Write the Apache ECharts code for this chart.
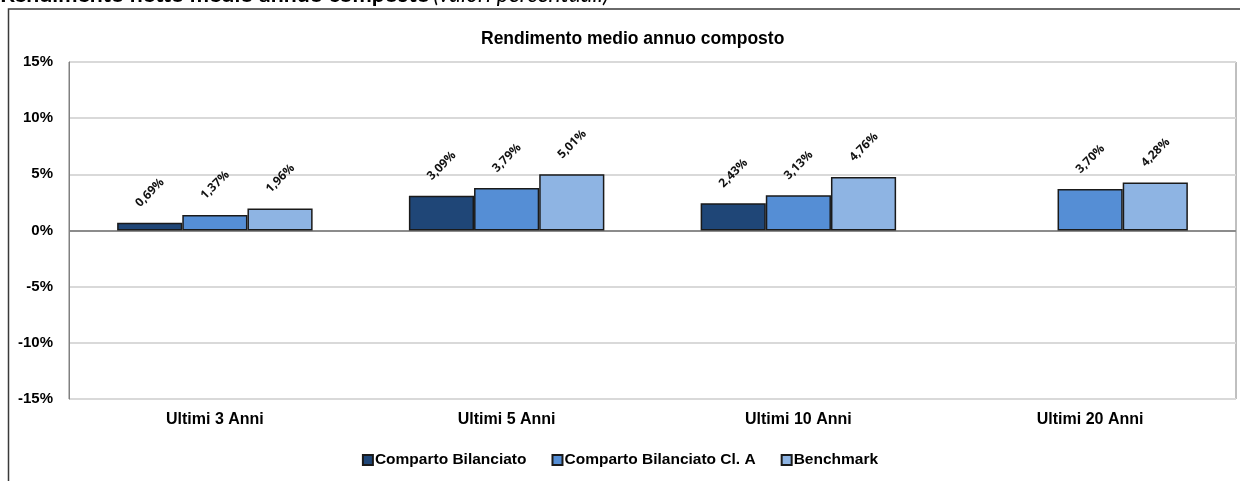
<!DOCTYPE html>
<html>
<head>
<meta charset="utf-8">
<script src="https://cdn.jsdelivr.net/npm/echarts@6/dist/echarts.min.js"></script>
<style>
  html, body { margin: 0; padding: 0; background: #fff; }
  #chart { width: 1240px; height: 481px; }
</style>
</head>
<body>
<div id="chart"></div>
<script>
const categories = ["Ultimi 3 Anni", "Ultimi 5 Anni", "Ultimi 10 Anni", "Ultimi 20 Anni"];
const bilanciato = [0.69, 3.09, 2.43, null];
const bilanciatoClA = [1.37, 3.79, 3.13, 3.70];
const benchmark = [1.96, 5.01, 4.76, 4.28];
const seriesNames = ["Comparto Bilanciato", "Comparto Bilanciato Cl. A", "Benchmark"];

const chart = echarts.init(document.getElementById("chart"));

// offset is in the label's rotated frame
const valueLabel = {
  show: true,
  position: "top",
  distance: 0,
  offset: [4, -21],
  rotate: 45,
  align: "left",
  verticalAlign: "middle",
  fontFamily: "Open Sans",
  fontWeight: "bold",
  fontSize: 12,
  color: "#111",
  formatter: (p) => p.value.toFixed(2).replace(".", ",") + "%",
};

function makeBar(name, data, color) {
  return {
    name: name,
    type: "bar",
    data: data,
    barGap: "0%",
    barCategoryGap: "33%",
    itemStyle: { color: color, borderColor: "#1a1a1a", borderWidth: 1.5 },
    label: valueLabel,
  };
}

const option = {
  animation: false,
  graphic: [
    {
      type: "rect",
      z: -10,
      shape: { x: 8.5, y: 9, width: 1260, height: 520 },
      style: { fill: "none", stroke: "#3a3a3a", lineWidth: 1.5 },
    },
    {
      type: "text",
      left: 0,
      top: -17,
      style: {
        text: "{b|Rendimento netto medio annuo composto} {i|(valori percentuali)}",
        rich: {
          b: { fontFamily: "Lato", fontWeight: "bold", fontSize: 23, fill: "#000" },
          i: { fontFamily: "Lato", fontStyle: "italic", fontSize: 23, fill: "#000" },
        },
      },
    },
  ],
  title: {
    text: "Rendimento medio annuo composto",
    left: 476,
    top: 25,
    textStyle: { fontFamily: "Liberation Sans", fontWeight: "bold", fontSize: 17.5, color: "#000" },
  },
  legend: {
    bottom: 8,
    left: "center",
    itemWidth: 10,
    itemHeight: 10,
    itemGap: 25,
    icon: "rect",
    textStyle: { fontFamily: "Liberation Sans", fontWeight: "bold", fontSize: 15.5, color: "#000", padding: [0, 0, 0, -3] },
    data: seriesNames,
  },
  grid: {
    left: 69,
    right: 4,
    top: 62,
    bottom: 82,
    show: true,
    borderColor: "#808080",
    borderWidth: 1,
  },
  xAxis: {
    type: "category",
    data: categories,
    axisLine: { show: false, onZero: false },
    axisTick: { show: false },
    axisLabel: { margin: 13, fontFamily: "Liberation Sans", fontWeight: "bold", fontSize: 16, color: "#000" },
  },
  yAxis: {
    type: "value",
    min: -15,
    max: 15,
    interval: 5,
    axisLine: { show: true, lineStyle: { color: "#808080" } },
    axisTick: { show: false },
    axisLabel: {
      margin: 16,
      fontFamily: "Liberation Sans",
      fontWeight: "bold",
      fontSize: 15,
      color: "#000",
      formatter: "{value}%",
    },
    splitLine: {
      lineStyle: {
        width: 2,
        color: ["#d9d9d9", "#d9d9d9", "#d9d9d9", "#8c8c8c", "#d9d9d9", "#d9d9d9", "#d9d9d9"],
      },
    },
  },
  series: [
    makeBar(seriesNames[0], bilanciato, "#1f4677"),
    makeBar(seriesNames[1], bilanciatoClA, "#558ed5"),
    makeBar(seriesNames[2], benchmark, "#8eb4e3"),
  ],
};

chart.setOption(option);
</script>
</body>
</html>
